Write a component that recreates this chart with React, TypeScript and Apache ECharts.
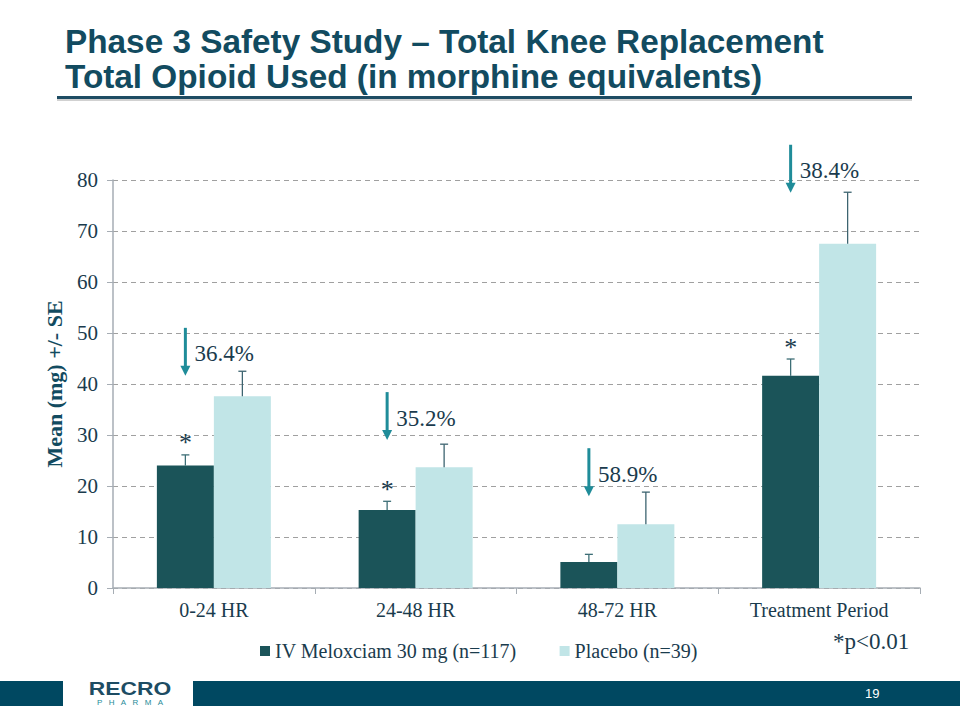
import React, { useEffect, useRef } from "react";
import * as echarts from "echarts";

const categories = ["0-24 HR", "24-48 HR", "48-72 HR", "Treatment Period"];
const seriesNames = ["IV Meloxciam 30 mg (n=117)", "Placebo (n=39)"];
const meloxicam = [24.0, 15.3, 5.1, 41.6];
const meloxicamSE = [2.1, 1.7, 1.5, 3.3];
const placebo = [37.6, 23.7, 12.5, 67.5];
const placeboSE = [4.9, 4.5, 6.3, 10.1];
const significant = [true, true, false, true];
const reductions = ["36.4%", "35.2%", "58.9%", "38.4%"];
const arrowTips = [41.6, 29.0, 18.0, 77.5];
const yTicks = { min: 0, max: 80, interval: 10 };

const DARK = "#1b5459";
const LIGHT = "#c1e5e7";
const TEXT = "#1a3b4d";
const TITLE = "#124b60";
const TEAL = "#1f8c99";
const SERIF = "'Liberation Serif', 'Times New Roman', serif";
const SANS = "'Liberation Sans', Arial, sans-serif";
const OFFSET = 0.14125;

function errorRender(offset: number, withStar: boolean) {
  return (params: any, api: any) => {
    const i = api.value(0);
    const v = api.value(1);
    const se = api.value(2);
    const band = api.size([1, 0])[0];
    const base = api.coord([i, v]);
    const top = api.coord([i, v + se]);
    const x = base[0] + offset * band;
    const stroke = withStar ? "#3d6e76" : "#3d6470";
    const children: any[] = [
      { type: "line", shape: { x1: x, y1: base[1], x2: x, y2: top[1] }, style: { stroke, lineWidth: 1.3 } },
      { type: "line", shape: { x1: x - 4, y1: top[1], x2: x + 4, y2: top[1] }, style: { stroke, lineWidth: 1.3 } },
    ];
    if (withStar && significant[params.dataIndex]) {
      children.push({
        type: "text",
        x,
        y: top[1] - 12,
        style: { text: "*", fill: TEXT, font: `26px ${SERIF}`, align: "center", verticalAlign: "middle" },
      });
    }
    return { type: "group", children };
  };
}

function arrowRender(params: any, api: any) {
  const i = api.value(0);
  const tip = api.value(1);
  const band = api.size([1, 0])[0];
  const c = api.coord([i, tip]);
  const x = c[0] - OFFSET * band;
  const y = c[1];
  return {
    type: "group",
    children: [
      { type: "line", shape: { x1: x, y1: y - 48, x2: x, y2: y - 8 }, style: { stroke: TEAL, lineWidth: 3 } },
      { type: "polygon", shape: { points: [[x - 5, y - 10], [x + 5, y - 10], [x, y]] }, style: { fill: TEAL } },
      {
        type: "text",
        x: x + 9,
        y: y - 22,
        style: { text: reductions[params.dataIndex], fill: TEXT, font: `23px ${SERIF}`, align: "left", verticalAlign: "middle" },
      },
    ],
  };
}

export default function App() {
  const ref = useRef<HTMLDivElement>(null);
  useEffect(() => {
    if (!ref.current) return;
    const chart = echarts.init(ref.current, null, { renderer: "svg" });
    chart.setOption({
      animation: false,
      backgroundColor: "#ffffff",
      grid: { left: 113, right: 40, top: 180, bottom: 132 },
      legend: {
        data: seriesNames,
        left: 255,
        top: 636,
        icon: "rect",
        itemWidth: 10,
        itemHeight: 10,
        itemGap: 43,
        textStyle: { fontFamily: SERIF, fontSize: 20, color: TEXT },
      },
      xAxis: {
        type: "category",
        data: categories,
        axisLine: { lineStyle: { color: "#a6adb4", width: 1.5 } },
        axisTick: { show: true, length: 6, lineStyle: { color: "#a6adb4" } },
        axisLabel: { fontFamily: SERIF, fontSize: 20, color: TEXT, margin: 12 },
      },
      yAxis: {
        type: "value",
        min: yTicks.min,
        max: yTicks.max,
        interval: yTicks.interval,
        name: "Mean (mg) +/- SE",
        nameLocation: "middle",
        nameGap: 48,
        nameRotate: 90,
        nameTextStyle: { fontFamily: SERIF, fontSize: 22, fontWeight: "bold", color: TITLE },
        axisLine: { show: true, lineStyle: { color: "#a6adb4", width: 1.5 } },
        axisTick: { show: true, length: 6, lineStyle: { color: "#a6adb4" } },
        axisLabel: { fontFamily: SERIF, fontSize: 21, color: TEXT, margin: 15 },
        splitLine: { lineStyle: { color: "#a0a0a0", type: [5, 4], width: 1 } },
      },
      series: [
        { name: seriesNames[0], type: "bar", data: meloxicam, itemStyle: { color: DARK }, barGap: "0%", barCategoryGap: "43.5%" },
        { name: seriesNames[1], type: "bar", data: placebo, itemStyle: { color: LIGHT }, barGap: "0%", barCategoryGap: "43.5%" },
        {
          type: "custom",
          renderItem: errorRender(-OFFSET, true),
          data: meloxicam.map((v, i) => [i, v, meloxicamSE[i]]),
          z: 10,
          silent: true,
        },
        {
          type: "custom",
          renderItem: errorRender(OFFSET, false),
          data: placebo.map((v, i) => [i, v, placeboSE[i]]),
          z: 10,
          silent: true,
        },
        {
          type: "custom",
          renderItem: arrowRender,
          data: arrowTips.map((v, i) => [i, v]),
          z: 11,
          silent: true,
        },
      ],
      graphic: [
        { type: "text", x: 65, y: 24, scaleX: 0.98, style: { text: "Phase 3 Safety Study – Total Knee Replacement", fill: TITLE, font: `bold 34px ${SANS}` } },
        { type: "text", x: 65, y: 59, scaleX: 0.98, style: { text: "Total Opioid Used (in morphine equivalents)", fill: TITLE, font: `bold 34px ${SANS}` } },
        { type: "rect", shape: { x: 57, y: 99, width: 855, height: 2 }, style: { fill: "rgba(0,0,0,0.18)" } },
        { type: "rect", shape: { x: 57, y: 96, width: 855, height: 3 }, style: { fill: "#1d4c63" } },
        { type: "text", left: 833, top: 630, style: { text: "*p<0.01", fill: TEXT, font: `23px ${SERIF}` } },
        { type: "rect", shape: { x: 0, y: 681, width: 63, height: 25 }, style: { fill: "#004861" } },
        { type: "rect", shape: { x: 193, y: 681, width: 767, height: 25 }, style: { fill: "#004861" } },
        { type: "text", left: 865, top: 687, style: { text: "19", fill: "#ffffff", font: `13px ${SANS}` } },
        { type: "text", x: 130, y: 688, scaleX: 1.2, style: { text: "RECRO", fill: "#1d4c63", font: `bold 19px ${SANS}`, align: "center", verticalAlign: "middle" } },
        { type: "text", x: 130, y: 702, style: { text: "P   H   A   R   M   A", fill: TEAL, font: `8px ${SANS}`, align: "center", verticalAlign: "middle" } },
      ],
    });
    return () => chart.dispose();
  }, []);
  return <div ref={ref} style={{ position: "fixed", left: 0, top: 0, width: 960, height: 720 }} />;
}
